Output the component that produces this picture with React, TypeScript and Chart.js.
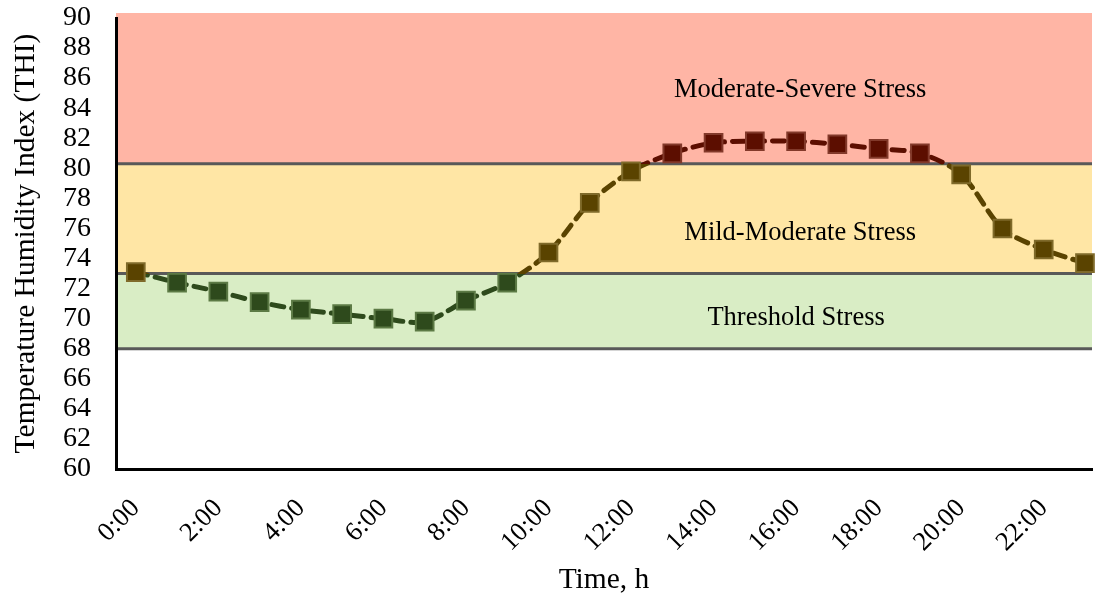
import { useEffect, useRef } from "react";
import { Chart, registerables } from "chart.js";

Chart.register(...registerables);

const hours = [0, 1, 2, 3, 4, 5, 6, 7, 8, 9, 10, 11, 12, 13, 14, 15, 16, 17, 18, 19, 20, 21, 22, 23];
const thiValues = [73.1, 72.4, 71.8, 71.1, 70.6, 70.3, 70.0, 69.8, 71.2, 72.4, 74.4, 77.7, 79.8, 81.0, 81.7, 81.8, 81.8, 81.6, 81.3, 81.0, 79.6, 76.0, 74.6, 73.7];
const xTickHours = [0, 2, 4, 6, 8, 10, 12, 14, 16, 18, 20, 22];
const bandLimits = [68, 73, 80.3, 90];
const bandNames = ["Threshold Stress", "Mild-Moderate Stress", "Moderate-Severe Stress"];
const bandFill = ["#D9EDC5", "#FFE6A5", "#FFB5A5"];
const lineColors = ["#2E4A1C", "#5A4300", "#5C0E00"];
const markerBorders = ["#5C7A45", "#7F6A2A", "#82392A"];

const FONT = '"Liberation Serif", "Times New Roman", serif';

function bandIndex(v: number) {
  if (v >= bandLimits[2]) return 2;
  if (v >= bandLimits[1]) return 1;
  return 0;
}

const bandsPlugin = {
  id: "bands",
  beforeDraw(chart: any) {
    const { ctx, chartArea, scales } = chart;
    const ys = scales.y;
    const xs = scales.x;
    const left = chartArea.left;
    const right = chartArea.right;
    ctx.save();
    for (let i = 0; i < 3; i++) {
      const yTop = i === 2 ? chartArea.top - 5 : ys.getPixelForValue(bandLimits[i + 1]);
      const yBot = ys.getPixelForValue(bandLimits[i]);
      ctx.fillStyle = bandFill[i];
      ctx.fillRect(left, yTop, right - left, yBot - yTop);
    }
    ctx.strokeStyle = "#595959";
    ctx.lineWidth = 3;
    for (let i = 0; i < 3; i++) {
      const y = ys.getPixelForValue(bandLimits[i]);
      ctx.beginPath();
      ctx.moveTo(left, y);
      ctx.lineTo(right, y);
      ctx.stroke();
    }
    const labelPos = [
      [16.0, 70.05],
      [16.1, 75.7],
      [16.1, 85.2],
    ];
    ctx.fillStyle = "#000";
    ctx.font = `26.5px ${FONT}`;
    ctx.textAlign = "center";
    ctx.textBaseline = "middle";
    for (let i = 0; i < 3; i++) {
      ctx.fillText(bandNames[i], xs.getPixelForValue(labelPos[i][0]), ys.getPixelForValue(labelPos[i][1]));
    }
    ctx.restore();
  },
};

export default function App() {
  const ref = useRef<HTMLCanvasElement | null>(null);

  useEffect(() => {
    if (!ref.current) return;
    const data = hours.map((h, i) => ({ x: h, y: thiValues[i] }));
    const chart = new Chart(ref.current, {
      type: "line",
      data: {
        datasets: [
          {
            data,
            clip: false,
            borderWidth: 5,
            borderDash: [12, 8],
            borderCapStyle: "round",
            tension: 0.3,
            borderColor: (ctx: any) => {
              const c = ctx.chart;
              const { chartArea, scales } = c;
              if (!chartArea) return lineColors[1];
              const y0 = scales.y.getPixelForValue(60);
              const y1 = scales.y.getPixelForValue(90);
              const g = c.ctx.createLinearGradient(0, y0, 0, y1);
              const f1 = (bandLimits[1] - 60) / 30;
              const f2 = (bandLimits[2] - 60) / 30;
              g.addColorStop(0, lineColors[0]);
              g.addColorStop(f1, lineColors[0]);
              g.addColorStop(f1, lineColors[1]);
              g.addColorStop(f2, lineColors[1]);
              g.addColorStop(f2, lineColors[2]);
              g.addColorStop(1, lineColors[2]);
              return g;
            },
            pointStyle: "rect",
            pointRadius: 12.5,
            pointBorderWidth: 2,
            pointBackgroundColor: (ctx: any) => lineColors[bandIndex(thiValues[ctx.dataIndex] ?? 75)],
            pointBorderColor: (ctx: any) => markerBorders[bandIndex(thiValues[ctx.dataIndex] ?? 75)],
            fill: false,
          } as any,
        ],
      },
      options: {
        animation: false,
        responsive: true,
        maintainAspectRatio: false,
        layout: { autoPadding: false, padding: { top: 18, right: 7, left: 0, bottom: 0 } },
        plugins: { legend: { display: false }, tooltip: { enabled: false } },
        scales: {
          x: {
            type: "linear",
            min: -0.48,
            max: 23.17,
            grid: { display: false },
            border: { display: true, color: "#000", width: 3 },
            afterBuildTicks: (axis: any) => {
              axis.ticks = xTickHours.map((v) => ({ value: v }));
            },
            afterFit: (scale: any) => {
              scale.height = 134;
              scale.paddingLeft = 0;
              scale.paddingRight = 0;
            },
            ticks: {
              autoSkip: false,
              minRotation: 45,
              maxRotation: 45,
              padding: 16,
              color: "#000",
              font: { family: FONT, size: 26.5 },
              callback: (v: any) => `${v}:00`,
            },
            title: {
              display: true,
              text: "Time, h",
              color: "#000",
              font: { family: FONT, size: 29.5 },
              padding: { top: 0, bottom: 5 },
            },
          },
          y: {
            min: 60,
            max: 90,
            grid: { display: false },
            border: { display: true, color: "#000", width: 3 },
            afterFit: (scale: any) => {
              scale.width = 116;
              scale.paddingTop = 0;
              scale.paddingBottom = 0;
            },
            ticks: {
              stepSize: 2,
              autoSkip: false,
              padding: 17,
              color: "#000",
              font: { family: FONT, size: 28 },
            },
            title: {
              display: true,
              text: "Temperature Humidity Index (THI)",
              color: "#000",
              font: { family: FONT, size: 29.5 },
              padding: { top: 9, bottom: 0 },
            },
          },
        },
      },
      plugins: [bandsPlugin],
    });
    return () => chart.destroy();
  }, []);

  return (
    <div style={{ position: "absolute", left: 0, top: 0, width: 1099, height: 603, background: "#fff" }}>
      <canvas ref={ref} />
    </div>
  );
}
